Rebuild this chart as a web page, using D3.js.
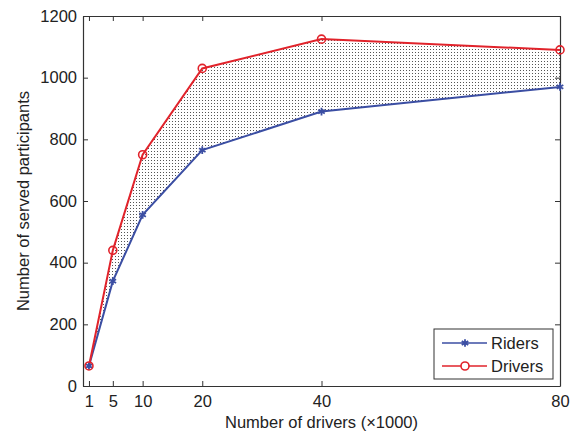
<!DOCTYPE html>
<html>
<head>
<meta charset="utf-8">
<script src="https://cdn.jsdelivr.net/npm/d3@7"></script>
<style>
  body { margin: 0; background: #fff; }
  text { font-family: "Liberation Sans", Arial, sans-serif; fill: #222; }
</style>
</head>
<body>
<div id="chart"></div>
<script>
// data
const drivers = [1, 5, 10, 20, 40, 80];          // x, thousands of drivers
const riders = [65, 340, 555, 765, 890, 970];
const driversServed = [65, 440, 750, 1030, 1125, 1090];
const xTicks = [1, 5, 10, 20, 40, 80];
const yTicks = [0, 200, 400, 600, 800, 1000, 1200];

const W = 574, H = 434;
const m = { left: 83, right: 14, top: 16, bottom: 48 };
const fs = 16.5;

const svg = d3.select("#chart").append("svg")
  .attr("width", W).attr("height", H);

// dotted fill pattern
const defs = svg.append("defs");
const pat = defs.append("pattern")
  .attr("id", "dots").attr("patternUnits", "userSpaceOnUse")
  .attr("width", 3).attr("height", 3);
pat.append("rect").attr("width", 3).attr("height", 3).attr("fill", "#fff");
pat.append("rect").attr("x", 1).attr("y", 1).attr("width", 1).attr("height", 1).attr("fill", "#555");

const x = d3.scaleLinear().domain([0, 80]).range([m.left, W - m.right]);
const y = d3.scaleLinear().domain([0, 1200]).range([H - m.bottom, m.top]);

const rows = drivers.map((d, i) => ({ x: d, r: riders[i], dr: driversServed[i] }));

// shaded band between the two curves
svg.append("path")
  .datum(rows)
  .attr("fill", "url(#dots)")
  .attr("d", d3.area()
    .x(d => x(d.x))
    .y0(d => y(d.r))
    .y1(d => y(d.dr)));

// axes (matlab style box with ticks inside)
const tickLen = 5;
const axB = svg.append("g").attr("transform", `translate(0,${y(0)})`)
  .call(d3.axisBottom(x).tickValues(xTicks).tickSizeInner(-tickLen).tickSizeOuter(0).tickPadding(9));
const axT = svg.append("g").attr("transform", `translate(0,${y(1200)})`)
  .call(d3.axisTop(x).tickValues(xTicks).tickSizeInner(-tickLen).tickSizeOuter(0).tickFormat(""));
const axL = svg.append("g").attr("transform", `translate(${x(0)},0)`)
  .call(d3.axisLeft(y).tickValues(yTicks).tickFormat(d3.format("d")).tickSizeInner(-tickLen).tickSizeOuter(0).tickPadding(6));
const axR = svg.append("g").attr("transform", `translate(${x(80)},0)`)
  .call(d3.axisRight(y).tickValues(yTicks).tickSizeInner(-tickLen).tickSizeOuter(0).tickFormat(""));

[axB, axT, axL, axR].forEach(g => {
  g.select(".domain").attr("stroke", "#333").attr("stroke-width", 1.2);
  g.selectAll(".tick line").attr("stroke", "#333");
  g.selectAll(".tick text").attr("font-size", fs).attr("fill", "#222");
});

// lines
const blue = "#3b4ea3", red = "#e1232b";
const line = key => d3.line().x(d => x(d.x)).y(d => y(d[key]));

svg.append("path").datum(rows)
  .attr("fill", "none").attr("stroke", blue).attr("stroke-width", 2)
  .attr("d", line("r"));
svg.append("path").datum(rows)
  .attr("fill", "none").attr("stroke", red).attr("stroke-width", 2)
  .attr("d", line("dr"));

// markers
const star = d3.symbol().type(d3.symbolAsterisk).size(40);
svg.append("g").selectAll("path")
  .data(rows).enter().append("path")
  .attr("transform", d => `translate(${x(d.x)},${y(d.r)})`)
  .attr("d", star())
  .attr("fill", "none").attr("stroke", blue).attr("stroke-width", 1.8);

svg.append("g").selectAll("circle")
  .data(rows).enter().append("circle")
  .attr("cx", d => x(d.x)).attr("cy", d => y(d.dr))
  .attr("r", 4)
  .attr("fill", "none").attr("stroke", red).attr("stroke-width", 1.6);

// axis labels
svg.append("text")
  .attr("x", (x(0) + x(80)) / 2).attr("y", 428)
  .attr("text-anchor", "middle").attr("font-size", fs)
  .text("Number of drivers (\u00d71000)");
svg.append("text")
  .attr("transform", `translate(29,${(y(0) + y(1200)) / 2}) rotate(-90)`)
  .attr("text-anchor", "middle").attr("font-size", fs)
  .text("Number of served participants");

// legend
const lg = svg.append("g").attr("transform", "translate(434,329)");
lg.append("rect").attr("width", 119).attr("height", 50)
  .attr("fill", "#fff").attr("stroke", "#333").attr("stroke-width", 1);
const items = [{ name: "Riders", color: blue, mark: "star" }, { name: "Drivers", color: red, mark: "circle" }];
items.forEach((it, i) => {
  const cy = 14 + i * 23;
  lg.append("line").attr("x1", 8).attr("x2", 53).attr("y1", cy).attr("y2", cy)
    .attr("stroke", it.color).attr("stroke-width", 1.6);
  if (it.mark === "star") {
    lg.append("path").attr("transform", `translate(31,${cy})`).attr("d", star())
      .attr("fill", "none").attr("stroke", it.color).attr("stroke-width", 1.8);
  } else {
    lg.append("circle").attr("cx", 31).attr("cy", cy).attr("r", 4)
      .attr("fill", "#fff").attr("stroke", it.color).attr("stroke-width", 1.6);
  }
  lg.append("text").attr("x", 57).attr("y", cy + 6).attr("font-size", fs).text(it.name);
});
</script>
</body>
</html>
